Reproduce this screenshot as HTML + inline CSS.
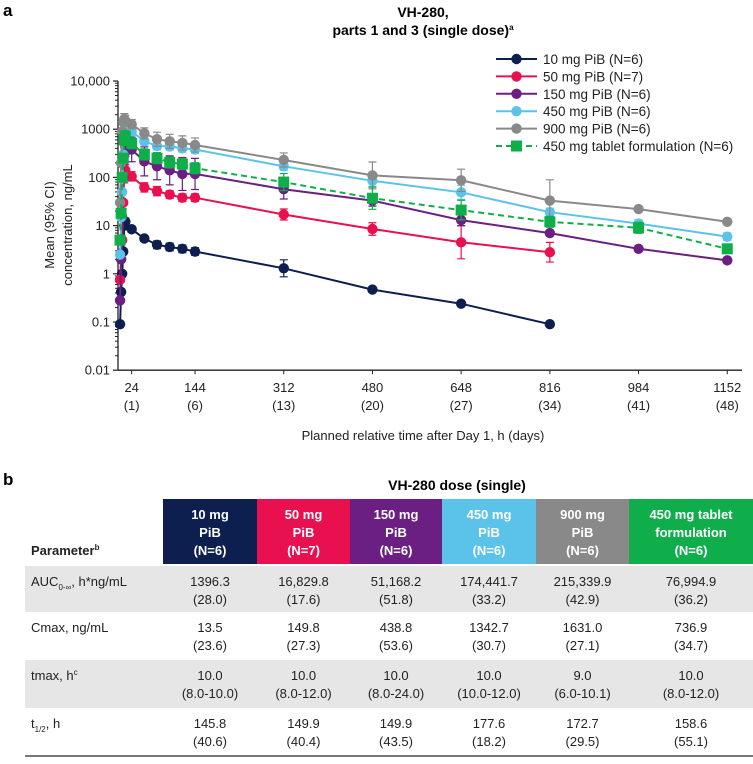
<!DOCTYPE html>
<html><head><meta charset="utf-8">
<style>
html,body{margin:0;padding:0;background:#fff;}
body{width:753px;height:759px;overflow:hidden;font-family:"Liberation Sans",Arial,sans-serif;}
svg text{font-family:"Liberation Sans",Arial,sans-serif;}
</style></head>
<body>
<svg id="fig" width="753" height="759" viewBox="0 0 753 759" xmlns="http://www.w3.org/2000/svg">
<text x="3" y="16" font-size="17" font-weight="bold">a</text>
<text x="423" y="17" font-size="14" font-weight="bold" text-anchor="middle">VH-280,</text>
<text x="423" y="35" font-size="14" font-weight="bold" text-anchor="middle">parts 1 and 3 (single dose)<tspan font-size="8" dy="-5">a</tspan></text>
<g id="axes"></g>
<g id="series"></g>
<g id="legend"></g>
<text transform="translate(54,225) rotate(-90)" font-size="13" text-anchor="middle" fill="#222">Mean (95% CI)</text>
<text transform="translate(72,225) rotate(-90)" font-size="13" text-anchor="middle" fill="#222">concentration, ng/mL</text>
<text x="423" y="440" font-size="13" text-anchor="middle" fill="#222">Planned relative time after Day 1, h (days)</text>

<text x="3" y="485" font-size="17" font-weight="bold">b</text>
<text x="457" y="490" font-size="14" font-weight="bold" text-anchor="middle">VH-280 dose (single)</text>
<g id="table"></g>
</svg>
<script>
// ---- chart data ----
const times = [2,4,6,8,10,12,24,48,72,96,120,144,312,480,648,816,984,1152];
const xTicks = [24,144,312,480,648,816,984,1152];
const xTickDays = ["(1)","(6)","(13)","(20)","(27)","(34)","(41)","(48)"];
const yTicks = [0.01,0.1,1,10,100,1000,10000];
const yTickLabels = ["0.01","0.1","1","10","100","1000","10,000"];
const seriesNames = ["10 mg PiB (N=6)","50 mg PiB (N=7)","150 mg PiB (N=6)","450 mg PiB (N=6)","900 mg PiB (N=6)","450 mg tablet formulation (N=6)"];
const s10  = [0.09,0.42,1.0,2.9,10,12,8.4,5.4,4.0,3.6,3.3,2.9,1.3,0.47,0.24,0.09,null,null];
const s50  = [0.75,2,5,30,100,140,105,62,52,44,38,38,17,8.5,4.5,2.8,null,null];
const s150 = [0.28,2,15,100,300,430,380,215,170,140,118,118,57,33,13,7,3.3,1.9];
const s450 = [2.5,15,50,300,900,1300,900,560,450,440,400,380,170,85,49,19,11,5.9];
const s900 = [30,200,900,1400,1620,1500,1270,820,620,560,520,470,230,110,87,33,22,12];
const sTab = [5,18,100,250,600,720,510,300,250,205,190,155,80,37,21,12,9,3.3];
// upper CI / mean ratios (null = no bar)
const e10  = [null,null,null,null,1.2,1.2,1.15,1.15,1.2,1.2,1.2,1.2,1.5,null,null,null,null,null];
const e50  = [null,null,null,null,1.3,1.3,1.25,1.25,1.25,1.2,1.2,1.2,1.3,1.35,2.2,1.6,null,null];
const e150 = [null,null,null,null,1.6,1.6,1.8,2.0,1.9,2.0,2.2,2.1,1.6,1.3,1.3,null,null,null];
const e450 = [null,null,null,null,1.3,1.3,1.2,1.2,1.2,1.2,1.2,1.2,1.2,1.3,1.4,1.2,1.2,1.2];
const e900 = [null,null,null,null,1.3,1.3,1.25,1.3,1.4,1.4,1.4,1.4,1.4,1.9,1.7,2.7,null,null];
const eTab = [null,null,null,null,1.3,1.3,1.3,1.3,1.3,1.3,1.3,1.3,1.5,1.7,1.6,1.3,1.3,null];

const NS="http://www.w3.org/2000/svg";
function mk(tag, attrs, parent){const e=document.createElementNS(NS,tag);for(const k in attrs)e.setAttribute(k,attrs[k]);parent.appendChild(e);return e;}
const X0=119, XS=0.528, YTOP=81, DEC=48.2;
function xs(h){return X0+XS*h;}
function ys(v){return YTOP+(4-Math.log10(v))*DEC;}

const axes=document.getElementById('axes');
let yl=mk('line',{x1:X0-1,x2:X0-1,y1:ys(10000),y2:ys(0.01),stroke:'#222','stroke-width':1.3},axes);


let xl=mk('line',{x1:X0-1,x2:742,y1:ys(0.01),y2:ys(0.01),stroke:'#222','stroke-width':1.3},axes);


yTicks.forEach((v,i)=>{
  const y=ys(v);
  const t=mk('line',{x1:X0-6,x2:X0-1,y1:y,y2:y,stroke:'#222','stroke-width':1.2},axes);
  
  
  const tx=mk('text',{x:X0-9,y:y+4.5,'font-size':13,'text-anchor':'end',fill:'#222'},axes);
  tx.textContent=yTickLabels[i];
  
  
  if(i<yTicks.length-1){for(let m=2;m<=9;m++){const ym=ys(v*m);const mt=mk('line',{x1:X0-4,x2:X0-1,y1:ym,y2:ym,stroke:'#222','stroke-width':1},axes);
    
    }}
});
xTicks.forEach((h,i)=>{
  const x=xs(h);
  const t=mk('line',{x1:x,x2:x,y1:ys(0.01),y2:ys(0.01)+4,stroke:'#222','stroke-width':1},axes);
  
  
  const a=mk('text',{x:x,y:392,'font-size':13,'text-anchor':'middle',fill:'#222'},axes);
  a.textContent=String(h);
  
  
  const b=mk('text',{x:x,y:410,'font-size':13,'text-anchor':'middle',fill:'#222'},axes);
  b.textContent=xTickDays[i];
  
  
});

const colors=['#0d1f4f','#e8104f','#6b1f82','#5bc3ea','#898989','#0fae4b'];
const allS=[s10,s50,s150,s450,s900,sTab];
const allE=[e10,e50,e150,e450,e900,eTab];
const sg=document.getElementById('series');
allS.forEach((s,si)=>{
  const c=colors[si];
  const g=mk('g',{},sg);
  
  
  allE[si].forEach((r,i)=>{
    if(r==null||s[i]==null)return;
    const x=xs(times[i]),y1=ys(s[i]*r),y2=ys(s[i]/r);
    const eb=mk('path',{d:`M${x},${y2}V${y1}M${x-4},${y1}H${x+4}M${x-4},${y2}H${x+4}`,stroke:c,'stroke-width':1.2,fill:'none'},g);
    
    
  });
  let d='';
  s.forEach((v,i)=>{if(v==null)return;d+=(d?'L':'M')+xs(times[i]).toFixed(1)+','+ys(v).toFixed(1);});
  const ln=mk('path',{d:d,stroke:c,'stroke-width':2,fill:'none','stroke-dasharray':si==5?'6,4':'none'},g);
  
  
  s.forEach((v,i)=>{
    if(v==null)return;
    const x=xs(times[i]),y=ys(v);
    let m;
    if(si==5)m=mk('rect',{x:x-5.5,y:y-5.5,width:11,height:11,fill:c},g);
    else m=mk('circle',{cx:x,cy:y,r:5.2,fill:c},g);
    
    
  });
});

const lg=document.getElementById('legend');
seriesNames.forEach((n,i)=>{
  const y=59+i*17.4;
  const g=mk('g',{},lg);
  
  
  mk('line',{x1:496,x2:537,y1:y,y2:y,stroke:colors[i],'stroke-width':2,'stroke-dasharray':i==5?'6,4':'none'},g);
  if(i==5)mk('rect',{x:511,y:y-5.5,width:11,height:11,fill:colors[i]},g);
  else mk('circle',{cx:516.5,cy:y,r:5.2,fill:colors[i]},g);
  const t=mk('text',{x:543,y:y+5,'font-size':13.5,fill:'#222'},g);
  t.textContent=n;
});

// ---- table ----
const tb=document.getElementById('table');
const colX=[163,257,350,442,536,629,753];
const headFill=['#0d1f4f','#e8104f','#6b1f82','#5bc3ea','#898989','#0fae4b'];
const headText=[["10 mg","PiB","(N=6)"],["50 mg","PiB","(N=7)"],["150 mg","PiB","(N=6)"],["450 mg","PiB","(N=6)"],["900 mg","PiB","(N=6)"],["450 mg tablet","formulation","(N=6)"]];
headFill.forEach((f,i)=>{
  const r=mk('rect',{x:colX[i],y:499,width:colX[i+1]-colX[i],height:65,fill:f},tb);
  
  
  headText[i].forEach((t,j)=>{
    const tx=mk('text',{x:(colX[i]+colX[i+1])/2,y:519+j*18,'font-size':13,'font-weight':'bold','text-anchor':'middle',fill:'#fff'},tb);
    tx.textContent=t;
  });
});
const ph=mk('text',{x:31,y:555,'font-size':13,'font-weight':'bold',fill:'#222'},tb);
ph.innerHTML='Parameter<tspan font-size="8" dy="-5">b</tspan>';


const rowTops=[566,612,660,708,755];
const rowLabels=['AUC<tspan font-size="8" dy="4">0-∞</tspan><tspan dy="-4">, h*ng/mL</tspan>','Cmax, ng/mL','tmax, h<tspan font-size="8" dy="-5">c</tspan>','t<tspan font-size="8" dy="4">1/2</tspan><tspan dy="-4">, h</tspan>'];
const rows=[
 [["1396.3","(28.0)"],["16,829.8","(17.6)"],["51,168.2","(51.8)"],["174,441.7","(33.2)"],["215,339.9","(42.9)"],["76,994.9","(36.2)"]],
 [["13.5","(23.6)"],["149.8","(27.3)"],["438.8","(53.6)"],["1342.7","(30.7)"],["1631.0","(27.1)"],["736.9","(34.7)"]],
 [["10.0","(8.0-10.0)"],["10.0","(8.0-12.0)"],["10.0","(8.0-24.0)"],["10.0","(10.0-12.0)"],["9.0","(6.0-10.1)"],["10.0","(8.0-12.0)"]],
 [["145.8","(40.6)"],["149.9","(40.4)"],["149.9","(43.5)"],["177.6","(18.2)"],["172.7","(29.5)"],["158.6","(55.1)"]]
];
rows.forEach((r,ri)=>{
  const top=rowTops[ri];
  const g=mk('g',{},tb);
  
  
  if(ri%2==0)mk('rect',{x:25,y:top,width:728,height:rowTops[ri+1]-top,fill:'#e6e6e6'},g);
  const lab=mk('text',{x:31,y:top+20,'font-size':13,fill:'#222'},g);
  lab.innerHTML=rowLabels[ri];
  r.forEach((cell,ci)=>{
    cell.forEach((t,j)=>{
      const tx=mk('text',{x:(colX[ci]+colX[ci+1])/2,y:top+20+j*18,'font-size':13,'text-anchor':'middle',fill:'#222'},g);
      tx.textContent=t;
    });
  });
});
const bl=mk('line',{x1:25,x2:753,y1:756,y2:756,stroke:'#777','stroke-width':2},tb);


</script>
</body></html>
